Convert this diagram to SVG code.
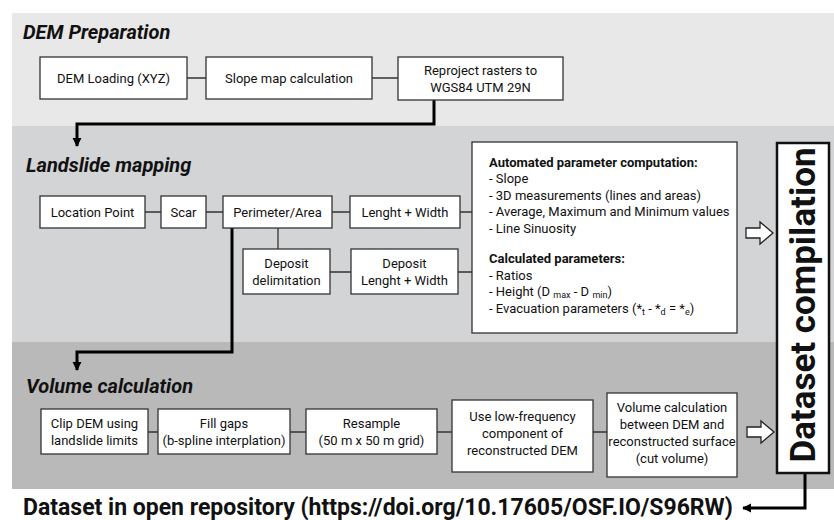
<svg xmlns="http://www.w3.org/2000/svg" width="834" height="520" viewBox="0 0 834 520">
<defs>
<style>
.box{fill:#fff;stroke:#333;stroke-width:1.3}
.t{font-family:Roboto,"Liberation Sans",sans-serif;font-size:13px;fill:#111;text-anchor:middle}
.title{font-family:Roboto,"Liberation Sans",sans-serif;font-size:20px;font-weight:bold;font-style:italic;fill:#111}
.ln{stroke:#333;stroke-width:1.3;fill:none}
.thick{stroke:#000;stroke-width:3;fill:none}
.hollow{fill:#fff;stroke:#222;stroke-width:1.3}
.p{font-family:Roboto,"Liberation Sans",sans-serif;font-size:13px;fill:#111}
</style>
<marker id="ah" viewBox="0 0 10 10" refX="9" refY="5" markerWidth="3" markerHeight="3.3" orient="auto" markerUnits="strokeWidth">
<path d="M0,0 L10,5 L0,10 Z" fill="#000"/>
</marker>
</defs>
<rect width="834" height="520" fill="#fff"/>
<rect x="12" y="13" width="822" height="113" fill="#e8e8e8"/>
<rect x="12" y="126" width="822" height="216" fill="#d3d4d6"/>
<rect x="12" y="342" width="822" height="147" fill="#b9b9ba"/>

<text class="title" x="23" y="39">DEM Preparation</text>
<text class="title" x="26" y="172">Landslide mapping</text>
<text class="title" x="26" y="393">Volume calculation</text>

<g id="connectors">
<path class="ln" d="M187,78 H206 M372,78 H398"/>
<path class="ln" d="M145,212 H161 M206,212 H223 M332,212 H350 M460,212 H472 M278,228 V249 M330,272 H351 M458,272 H472"/>
<path class="ln" d="M148,432 H158 M290,432 H306 M437,432 H452 M593,432 H607"/>
<path class="thick" d="M434,100 V124 H77 V146" marker-end="url(#ah)"/>
<path class="thick" d="M232,228 V352 H77 V370" marker-end="url(#ah)"/>
<path class="thick" d="M805,473 V508 H743" marker-end="url(#ah)"/>
<polygon class="hollow" points="746,228 760,228 760,222 773,233 760,244 760,238 746,238"/>
<polygon class="hollow" points="747,427 761,427 761,421 774,432 761,443 761,437 747,437"/>
</g>

<g id="dem-loading"><rect class="box" x="40" y="57" width="147" height="42"/><text class="t" x="113.5" y="82.5">DEM Loading (XYZ)</text></g>
<g id="slope-map"><rect class="box" x="206" y="57" width="166" height="42"/><text class="t" x="289" y="82.5">Slope map calculation</text></g>
<g id="reproject"><rect class="box" x="398" y="57" width="165" height="43"/><text class="t" x="480.5" y="74.5">Reproject rasters to</text><text class="t" x="480.5" y="91.5">WGS84 UTM 29N</text></g>

<g id="location-point"><rect class="box" x="40" y="196" width="105" height="32"/><text class="t" x="92.5" y="216.5">Location Point</text></g>
<g id="scar"><rect class="box" x="161" y="196" width="45" height="32"/><text class="t" x="183.5" y="216.5">Scar</text></g>
<g id="perimeter-area"><rect class="box" x="223" y="196" width="109" height="32"/><text class="t" x="277.5" y="216.5">Perimeter/Area</text></g>
<g id="length-width"><rect class="box" x="350" y="196" width="110" height="32"/><text class="t" x="405" y="216.5">Lenght + Width</text></g>
<g id="deposit-delimitation"><rect class="box" x="243" y="249" width="87" height="45"/><text class="t" x="286.5" y="268">Deposit</text><text class="t" x="286.5" y="285">delimitation</text></g>
<g id="deposit-length-width"><rect class="box" x="351" y="249" width="107" height="45"/><text class="t" x="404.5" y="268">Deposit</text><text class="t" x="404.5" y="285">Lenght + Width</text></g>

<g id="parameters"><rect class="box" x="472" y="142" width="265" height="191"/>
<text class="p" x="489" y="166.5" font-weight="bold">Automated parameter computation:</text>
<text class="p" x="489" y="183">- Slope</text>
<text class="p" x="489" y="199.5">- 3D measurements (lines and areas)</text>
<text class="p" x="489" y="216">- Average, Maximum and Minimum values</text>
<text class="p" x="489" y="232.5">- Line Sinuosity</text>
<text class="p" x="489" y="263" font-weight="bold">Calculated parameters:</text>
<text class="p" x="489" y="279.5">- Ratios</text>
<text class="p" x="489" y="296">- Height (D <tspan font-size="9" dy="2">max</tspan><tspan dy="-2"> - D </tspan><tspan font-size="9" dy="2">min</tspan><tspan dy="-2">)</tspan></text>
<text class="p" x="489" y="312.5">- Evacuation parameters (*<tspan font-size="9" dy="2">t</tspan><tspan dy="-2"> - *</tspan><tspan font-size="9" dy="2">d</tspan><tspan dy="-2"> = *</tspan><tspan font-size="9" dy="2">e</tspan><tspan dy="-2">)</tspan></text>
</g>

<g id="clip-dem"><rect class="box" x="41" y="409" width="107" height="45"/><text class="t" x="94.5" y="428">Clip DEM using</text><text class="t" x="94.5" y="445">landslide limits</text></g>
<g id="fill-gaps"><rect class="box" x="158" y="409" width="132" height="45"/><text class="t" x="224" y="428">Fill gaps</text><text class="t" x="224" y="445">(b-spline interplation)</text></g>
<g id="resample"><rect class="box" x="306" y="409" width="131" height="45"/><text class="t" x="371.5" y="428">Resample</text><text class="t" x="371.5" y="445">(50 m x 50 m grid)</text></g>
<g id="low-frequency"><rect class="box" x="452" y="400" width="141" height="72"/><text class="t" x="522.5" y="421">Use low-frequency</text><text class="t" x="522.5" y="438">component of</text><text class="t" x="522.5" y="455">reconstructed DEM</text></g>
<g id="volume-calc"><rect class="box" x="607" y="393" width="130" height="84"/><text class="t" x="672" y="412">Volume calculation</text><text class="t" x="672" y="429">between DEM and</text><text class="t" x="672" y="446">reconstructed surface</text><text class="t" x="672" y="463">(cut volume)</text></g>

<g id="dataset-compilation"><rect x="777" y="143" width="52" height="330" fill="#fff" stroke="#111" stroke-width="2.5"/>
<text x="815" y="305" transform="rotate(-90 815 305)" font-family="Roboto,'Liberation Sans',sans-serif" font-size="35" font-weight="bold" fill="#111" text-anchor="middle">Dataset compilation</text></g>

<g id="repository"><text x="23" y="515" font-family="Roboto,'Liberation Sans',sans-serif" font-size="23" font-weight="bold" fill="#111">Dataset in open repository (https://doi.org/10.17605/OSF.IO/S96RW)</text></g>
</svg>
